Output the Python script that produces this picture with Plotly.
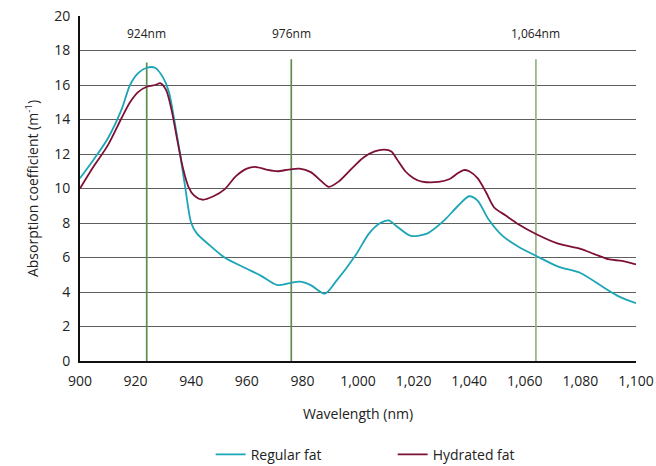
import plotly.graph_objects as go

# --- data ---
regular_x = [900, 905, 910, 915, 918, 921, 924, 927, 930, 932, 934, 936, 938, 940, 942, 946,
             952, 960, 965, 971, 975, 979, 983, 988, 992, 999, 1004, 1008, 1011, 1014, 1019,
             1025, 1031, 1036, 1040, 1043, 1047, 1052, 1058, 1064, 1072, 1080, 1088, 1094, 1100]
regular_y = [10.6, 11.7, 12.9, 14.6, 16.0, 16.7, 17.0, 17.0, 16.4, 15.6, 13.9, 12.0, 9.9, 8.0, 7.4, 6.8,
             6.0, 5.35, 4.95, 4.4, 4.5, 4.6, 4.4, 3.9, 4.6, 6.1, 7.4, 8.0, 8.15, 7.8, 7.25,
             7.4, 8.15, 9.0, 9.55, 9.3, 8.2, 7.25, 6.6, 6.1, 5.47, 5.1, 4.3, 3.73, 3.35]

hydrated_x = [900, 905, 910, 915, 918, 921, 924, 927, 929, 931, 933, 935, 937, 939, 941, 944,
              948, 952, 956, 960, 963, 967, 971, 975, 979, 983, 987, 989.5, 993, 998, 1002,
              1006, 1009.5, 1012, 1014, 1017, 1020, 1023, 1029, 1033, 1036, 1038, 1040, 1043,
              1046, 1049, 1053, 1058, 1064, 1072, 1080, 1085, 1090, 1095, 1100]
hydrated_y = [10.0, 11.3, 12.5, 14.1, 15.0, 15.6, 15.9, 16.0, 16.1, 15.7, 14.5, 12.8, 11.2, 10.1, 9.6, 9.35,
              9.55, 9.95, 10.7, 11.15, 11.25, 11.1, 11.0, 11.1, 11.15, 10.95, 10.4, 10.1, 10.4, 11.2, 11.8,
              12.15, 12.25, 12.15, 11.7, 11.0, 10.6, 10.4, 10.38, 10.55, 10.9, 11.07, 11.0, 10.6,
              9.8, 8.9, 8.45, 7.9, 7.36, 6.8, 6.5, 6.2, 5.9, 5.8, 5.6]

marker_wavelengths = [924, 976, 1064]
marker_labels = ["924nm", "976nm", "1,064nm"]
marker_colors = ["#5b8f4c", "#5b8f4c", "#93b58c"]
marker_tops = [17.3, 17.5, 17.5]
label_y = 19

x_ticks = [900, 920, 940, 960, 980, 1000, 1020, 1040, 1060, 1080, 1100]
y_ticks = [0, 2, 4, 6, 8, 10, 12, 14, 16, 18, 20]

font_family = "Open Sans"
teal = "#1ba5b6"
maroon = "#7d1035"

fig = go.Figure()

for wl, top, col in zip(marker_wavelengths, marker_tops, marker_colors):
    fig.add_trace(go.Scatter(x=[wl, wl], y=[0, top], mode="lines",
                             line=dict(color=col, width=1.7), showlegend=False,
                             hoverinfo="skip"))

fig.add_trace(go.Scatter(x=regular_x, y=regular_y, mode="lines", name="Regular fat",
                         line=dict(color=teal, width=1.8, shape="spline", smoothing=0.8)))
fig.add_trace(go.Scatter(x=hydrated_x, y=hydrated_y, mode="lines", name="Hydrated fat",
                         line=dict(color=maroon, width=1.8, shape="spline", smoothing=0.8)))

for wl, lab in zip(marker_wavelengths, marker_labels):
    fig.add_annotation(x=wl, y=label_y, text=lab, showarrow=False,
                       font=dict(family=font_family, size=12, color="#222"))

fig.update_layout(
    width=656, height=466,
    margin=dict(l=80, r=20, t=16, b=105, autoexpand=False),
    plot_bgcolor="white", paper_bgcolor="white",
    font=dict(family=font_family, size=14, color="#222"),
    xaxis=dict(range=[900, 1100], tickvals=x_ticks, tickformat=",d",
               showgrid=False, zeroline=False, automargin=False,
               showline=True, linecolor="#111", linewidth=2,
               ticks="", ticklabelstandoff=6,
               title=dict(text="Wavelength (nm)", font=dict(size=14), standoff=20)),
    yaxis=dict(range=[0, 20], tickvals=y_ticks,
               showgrid=True, gridcolor="#5e5e5e", gridwidth=1.3,
               zeroline=False, automargin=False,
               showline=True, linecolor="#111", linewidth=2,
               ticks="", ticklabelstandoff=5,
               title=dict(text="Absorption coefficient (m<sup>-1</sup>)", font=dict(size=14), standoff=12)),
    legend=dict(orientation="h", x=0.235, xanchor="left", yref="container", y=0.024,
                yanchor="middle", font=dict(size=14), entrywidth=137, entrywidthmode="pixels"),
    showlegend=True,
)

# remove the browser's default 8px page margin so the figure fills the window exactly
fig.write_html("out.html", config={"displayModeBar": False},
               post_script="document.body.style.margin='0';")
